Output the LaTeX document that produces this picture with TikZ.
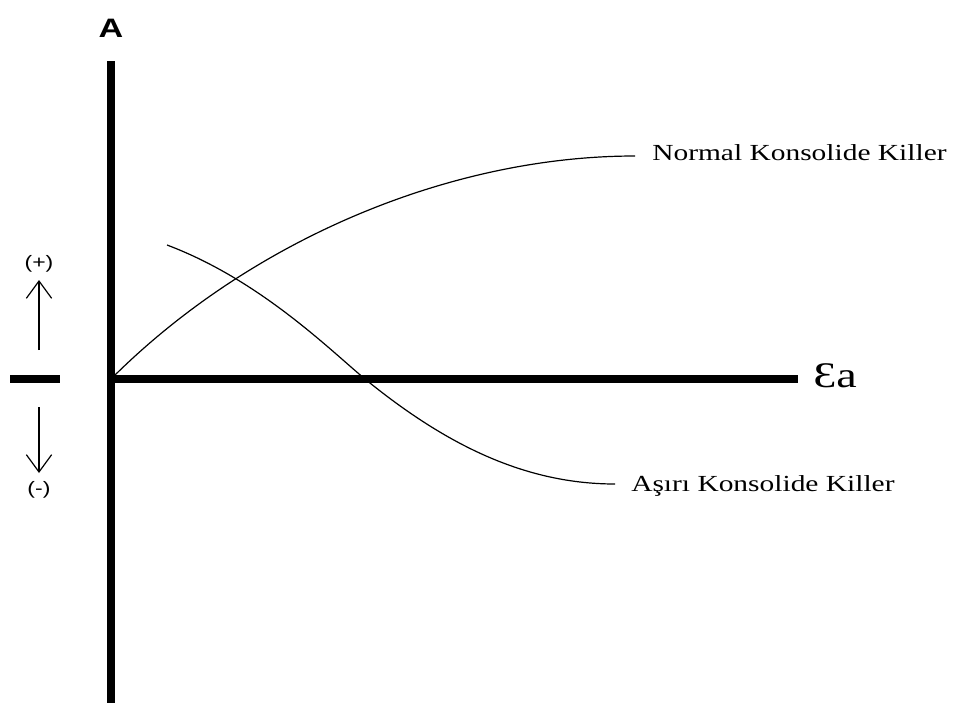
\documentclass[tikz,border=0pt]{standalone}
\usepackage{fontspec}
\setmainfont{Liberation Serif}
\newfontfamily\sansfont{Liberation Sans}
\usepackage{tikz}
\usetikzlibrary{arrows.meta}

\begin{document}
\begin{tikzpicture}[x=0.75pt, y=-0.75pt]
	\tikzstyle{axis}=[line width=6pt]
	\tikzstyle{curve}=[line width=0.9pt]
	\tikzstyle{sign}=[line width=0.9pt, -{Straight Barb[length=13pt, width=19pt]}]
	\tikzstyle{lbl}=[inner sep=0pt, anchor=base west, font=\fontsize{17.25}{20}\selectfont]
	\tikzstyle{small}=[inner sep=0pt, font=\sansfont\fontsize{13.5}{15}\selectfont]
	
	\useasboundingbox (0,0) rectangle (953,707);
	
	% axes
	\coordinate (o) at (111,379);
	\coordinate (ytop) at (111,61);
	\coordinate (ybot) at (111,703);
	\coordinate (xend) at (798,379);
	\draw [axis] (ytop) to (ybot);
	\draw [axis] (o) to (xend);
	
	\draw node at (111,37) [inner sep=0pt, anchor=base, font=\sansfont\bfseries\fontsize{20}{24}\selectfont] (ya) {\scalebox{1.28}[1]{A}};
	\draw node at (813,387) [lbl, font=\fontsize{27}{30}\selectfont] (xa) {\scalebox{1.28}[1]{Ɛa}};
	
	% sign marks
	\coordinate (t1) at (10,379);
	\coordinate (t2) at (60,379);
	\draw [axis] (t1) to (t2);
	
	\draw node at (39,264) [small] (plus) {\scalebox{1.28}[1]{(+)}};
	\draw node at (39,490) [small] (minus) {\scalebox{1.28}[1]{(-)}};
	\coordinate (up0) at (39,350);
	\coordinate (up1) at (39,280);
	\coordinate (dn0) at (39,407);
	\coordinate (dn1) at (39,473);
	\draw [sign] (up0) to (up1);
	\draw [sign] (dn0) to (dn1);
	
	% curves
	\coordinate (nkend) at (635,156);
	\coordinate (akstart) at (167,245);
	\coordinate (akmid) at (365,379);
	\coordinate (akend) at (615,484);
	\draw [curve] (o) .. controls (250,240) and (450,156) .. (nkend);
	\draw [curve] (akstart) .. controls (260,280) and (330,350) .. (akmid)
		.. controls (440,440) and (520,484) .. (akend);
	
	\draw node at (652,160) [lbl] (nk) {\scalebox{1.28}[1]{Normal Konsolide Killer}};
	\draw node at (631,491) [lbl] (ak) {\scalebox{1.28}[1]{Aşırı Konsolide Killer}};
\end{tikzpicture}
\end{document}
